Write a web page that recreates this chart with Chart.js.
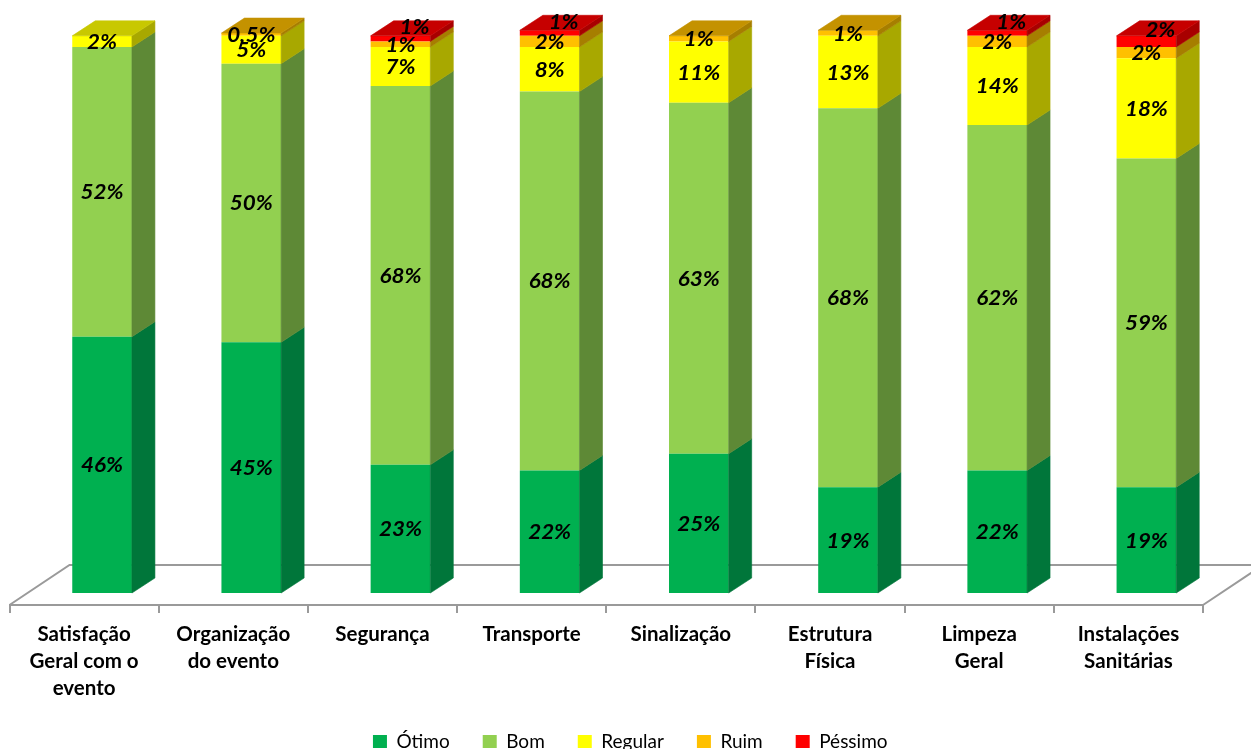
<!DOCTYPE html>
<html>
<head>
<meta charset="utf-8">
<script src="https://cdn.jsdelivr.net/npm/chart.js@4.4.1/dist/chart.umd.min.js"></script>
<style>
  html, body { margin: 0; padding: 0; background: #ffffff; }
  #wrap { width: 1251px; height: 749px; }
</style>
</head>
<body>
<div id="wrap"><canvas id="chart" width="1251" height="749"></canvas></div>
<script>
// Categories (one entry per bar, already split into label lines)
const categories = [
  ["Satisfação", "Geral com o", "evento"],
  ["Organização", "do evento"],
  ["Segurança"],
  ["Transporte"],
  ["Sinalização"],
  ["Estrutura", "Física"],
  ["Limpeza", "Geral"],
  ["Instalações", "Sanitárias"]
];

// Percentages per rating level
const seriesNames = ["Ótimo", "Bom", "Regular", "Ruim", "Péssimo"];
const otimo   = [46, 45, 23, 22, 25, 19, 22, 19];
const bom     = [52, 50, 68, 68, 63, 68, 62, 59];
const regular = [2, 5, 7, 8, 11, 13, 14, 18];
const ruim    = [0, 0.5, 1, 2, 1, 1, 2, 2];
const pessimo = [0, 0, 1, 1, 0, 0, 1, 2];

// Face colours: front, right side, top
const palette = [
  { front: "#00B050", side: "#00763A", top: "#009444" },
  { front: "#92D050", side: "#5E8936", top: "#7AB043" },
  { front: "#FFFF00", side: "#A8A800", top: "#C8C800" },
  { front: "#FFC000", side: "#A67E00", top: "#C49200" },
  { front: "#FF0000", side: "#A80000", top: "#C60000" }
];

const LINE = "#9A9A9A";
const BAR_DEPTH = { x: 23, y: -15 };   // receding edge of each bar
const BAR_SHIFT = { x: 18, y: -12 };   // bars stand this far behind the floor's front edge
const FLOOR_DEPTH = { x: 60, y: -40 }; // full depth of the floor

const values = [otimo, bom, regular, ruim, pessimo];

function pctText(v) {
  return String(v).replace(".", ",") + "%";
}

// Draws the floor, the bar side/top faces and the value labels
const depthPlugin = {
  id: "depth3d",
  beforeDatasetsDraw(chart) {
    const { ctx, chartArea: a } = chart;
    ctx.save();
    ctx.strokeStyle = LINE;
    ctx.lineWidth = 2;
    ctx.beginPath();
    ctx.moveTo(a.left, a.bottom);
    ctx.lineTo(a.left + FLOOR_DEPTH.x, a.bottom + FLOOR_DEPTH.y);
    ctx.lineTo(a.right + FLOOR_DEPTH.x, a.bottom + FLOOR_DEPTH.y);
    ctx.lineTo(a.right, a.bottom);
    ctx.stroke();
    ctx.restore();
    ctx.save();
    ctx.translate(BAR_SHIFT.x, BAR_SHIFT.y);
  },
  afterDatasetsDraw(chart) {
    const ctx = chart.ctx;
    const sets = chart.data.datasets;
    const n = chart.data.labels.length;
    const labels = [];
    for (let j = 0; j < n; j++) {
      let topIdx = -1;
      sets.forEach((d, i) => { if (d.data[j] > 0) topIdx = i; });
      sets.forEach((d, i) => {
        const v = d.data[j];
        if (!(v > 0)) return;
        const el = chart.getDatasetMeta(i).data[j];
        const p = el.getProps(["x", "y", "base", "width"], true);
        const left = p.x - p.width / 2, right = p.x + p.width / 2;
        const top = Math.min(p.y, p.base), bottom = Math.max(p.y, p.base);
        const col = palette[i];
        // right side face
        ctx.beginPath();
        ctx.moveTo(right, top);
        ctx.lineTo(right + BAR_DEPTH.x, top + BAR_DEPTH.y);
        ctx.lineTo(right + BAR_DEPTH.x, bottom + BAR_DEPTH.y);
        ctx.lineTo(right, bottom);
        ctx.closePath();
        ctx.fillStyle = col.side;
        ctx.fill();
        ctx.strokeStyle = col.side;
        ctx.lineWidth = 0.6;
        ctx.stroke();
        // top face on the highest segment
        if (i === topIdx) {
          ctx.beginPath();
          ctx.moveTo(left, top);
          ctx.lineTo(right, top);
          ctx.lineTo(right + BAR_DEPTH.x, top + BAR_DEPTH.y);
          ctx.lineTo(left + BAR_DEPTH.x, top + BAR_DEPTH.y);
          ctx.closePath();
          ctx.fillStyle = col.top;
          ctx.fill();
          ctx.strokeStyle = col.top;
          ctx.stroke();
        }
        let lx = p.x, ly = (top + bottom) / 2;
        if (i === 4) { lx += 14; ly -= 12; }
        labels.push({ text: pctText(v), x: lx, y: ly });
      });
    }
    ctx.fillStyle = "#000000";
    ctx.font = "italic bold 20px Lato";
    ctx.textAlign = "center";
    ctx.textBaseline = "middle";
    labels.forEach(l => {
      ctx.save();
      ctx.translate(l.x, l.y + 1);
      ctx.scale(1.12, 1);
      ctx.fillText(l.text, 0, 0);
      ctx.restore();
    });
    ctx.restore();
  }
};

const chart = new Chart(document.getElementById("chart"), {
  type: "bar",
  data: {
    labels: categories,
    datasets: seriesNames.map((name, i) => ({
      label: name,
      data: values[i],
      backgroundColor: palette[i].front,
      borderWidth: 0,
      barPercentage: 0.4,
      categoryPercentage: 1,
      clip: false
    }))
  },
  options: {
    responsive: false,
    animation: false,
    devicePixelRatio: 1,
    layout: { padding: { top: 20, left: 9.5, right: 0, bottom: -12 } },
    plugins: {
      tooltip: { enabled: false },
      legend: {
        position: "bottom",
        labels: {
          font: { family: "Lato", size: 19 },
          color: "#000000",
          boxWidth: 14,
          boxHeight: 13,
          padding: 33
        }
      }
    },
    scales: {
      x: {
        stacked: true,
        border: { display: true, color: LINE, width: 2 },
        grid: { drawOnChartArea: false, drawTicks: true, tickLength: 8, color: LINE, lineWidth: 2, offset: true },
        ticks: {
          font: { family: "Lato", size: 20.5, weight: "bold", lineHeight: 1.32 },
          color: "#000000",
          padding: 8,
          maxRotation: 0,
          autoSkip: false
        },
        afterFit(scale) {
          const lg = scale.chart.legend;
          const legendH = lg && lg.height ? lg.height : 60;
          scale.height = scale.chart.height - 605 + 12 - legendH;
        }
      },
      y: {
        stacked: true,
        position: "right",
        min: 0,
        max: 105,
        display: true,
        border: { display: false },
        grid: { display: false },
        ticks: { display: false },
        afterFit(scale) { scale.width = 48; }
      }
    }
  },
  plugins: [depthPlugin]
});
</script>
</body>
</html>
